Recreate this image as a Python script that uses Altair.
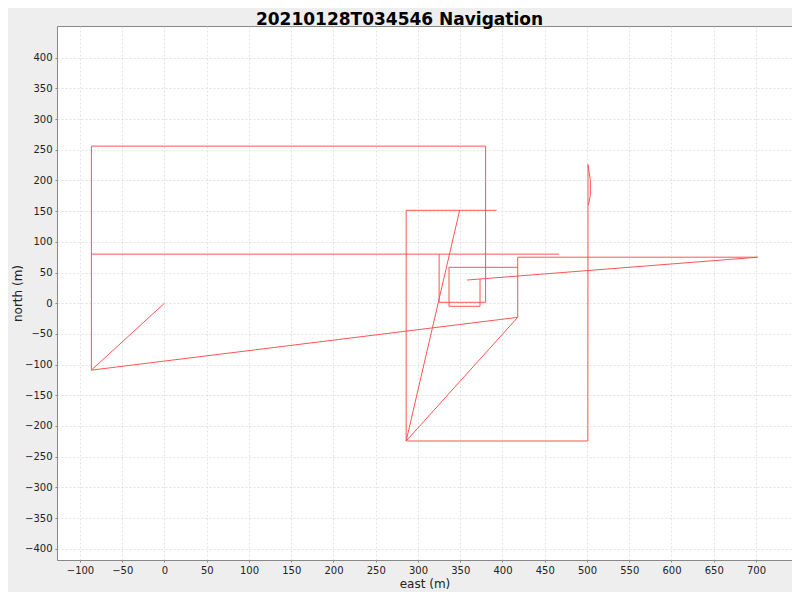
import altair as alt
import pandas as pd

# Navigation track (east, north in metres), drawn as connected strokes
stroke = [1, 1, 1, 1, 1, 1, 1,
          2, 2,
          3, 3, 3, 3, 3, 3,
          4, 4, 4, 4, 4,
          5, 5, 5, 5,
          6, 6, 6, 6, 6, 6, 6, 6]
east = [0, -86.5, -86.5, 380, 380, 325, 325,
        -86.5, 467,
        -86.5, 418, 418, 418, 702, 358,
        373.4, 373.4, 336.7, 336.7, 418,
        418, 286, 286, 393,
        349.3, 286, 501, 501, 501.2, 504, 504, 501.7]
north = [0, -109, 256, 256, 1.5, 1.5, 80,
         80, 80,
         -109, -23, 58.5, 75, 75, 37.8,
         39.4, -5, -5, 58.5, 58.5,
         -23, -224.5, 151.4, 151.4,
         151.4, -224.5, -224.5, -224.5, 226, 200, 176, 160]

x_ticks = list(range(-100, 701, 50))
y_ticks = list(range(-400, 401, 50))

df = pd.DataFrame({"stroke": stroke, "east": east, "north": north,
                   "i": list(range(len(east)))})

FONT = "DejaVu Sans"

chart = alt.Chart(df).mark_line(
    color="#ff5555", strokeWidth=1, clip=True
).encode(
    x=alt.X("east:Q",
            scale=alt.Scale(domain=[-127.2, 742.6], nice=False, zero=False),
            axis=alt.Axis(values=x_ticks, title="east (m)", format="d",
                          titlePadding=3)),
    y=alt.Y("north:Q",
            scale=alt.Scale(domain=[-418.4, 451.7], nice=False, zero=False),
            axis=alt.Axis(values=y_ticks, title="north (m)", format="d",
                          titlePadding=0)),
    detail="stroke:N",
    order=alt.Order("i:Q"),
).properties(
    width=735,
    height=534,
    padding={"left": 49, "top": 18, "right": 0, "bottom": 32},
    autosize="none",
    background="#eeeeee",
    title=alt.TitleParams(
        text="20210128T034546 Navigation",
        font=FONT, fontSize=17, fontWeight="bold", color="#000000",
        anchor="middle", dx=-25, dy=3, offset=0,
    ),
).configure_view(
    fill="white", stroke="#888888", strokeWidth=1
).configure_axis(
    domain=False,
    grid=True,
    gridColor="#d0d0d0",
    gridDash=[2, 2],
    gridWidth=0.6,
    tickColor="#888888",
    tickSize=2,
    labelFont=FONT,
    labelFontSize=10,
    labelColor="#222222",
    titleFont=FONT,
    titleFontSize=12,
    titleFontWeight="normal",
    titleColor="#222222",
    labelPadding=3,
)

chart.save("out.html", embed_options={"renderer": "svg", "actions": False})
